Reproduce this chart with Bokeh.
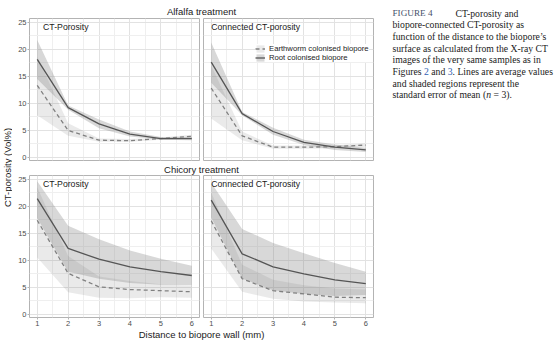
import math
from bokeh.plotting import figure
from bokeh.models import (Range1d, FixedTicker, Label, Legend, LegendItem, Grid,
                          LinearAxis, ColumnDataSource)
from bokeh.layouts import row, column
from bokeh.embed import file_html
from bokeh.resources import INLINE

# ---------------- data ----------------
distance = [1, 2, 3, 4, 5, 6]
x_ticks = [1, 2, 3, 4, 5, 6]
x_minor = [1.5, 2.5, 3.5, 4.5, 5.5]
y_ticks = [0, 5, 10, 15, 20, 25]
y_minor = [2.5, 7.5, 12.5, 17.5, 22.5]

treatments = ["Alfalfa treatment", "Chicory treatment"]
panel_titles = ["CT-Porosity", "Connected CT-porosity"]
series_names = ["Earthworm colonised biopore", "Root colonised biopore"]
y_title = "CT-porosity (Vol%)"
x_title = "Distance to biopore wall (mm)"

# Alfalfa - CT-porosity
alf_ct_ew_mean = [13.3, 5.0, 3.2, 3.1, 3.5, 3.9]
alf_ct_ew_lo = [7.8, 4.0, 2.9, 2.9, 3.3, 3.6]
alf_ct_ew_hi = [18.6, 6.3, 3.5, 3.4, 3.7, 4.2]
alf_ct_root_mean = [18.1, 9.2, 6.2, 4.3, 3.5, 3.5]
alf_ct_root_lo = [14.5, 8.8, 5.4, 3.9, 3.3, 3.2]
alf_ct_root_hi = [21.7, 9.6, 7.0, 4.8, 3.8, 3.8]

# Alfalfa - connected CT-porosity
alf_con_ew_mean = [12.8, 4.0, 1.9, 1.9, 2.0, 2.3]
alf_con_ew_lo = [7.2, 3.2, 1.6, 1.6, 1.7, 2.0]
alf_con_ew_hi = [17.0, 4.8, 2.2, 2.2, 2.3, 2.6]
alf_con_root_mean = [17.6, 8.1, 4.8, 2.8, 1.9, 1.4]
alf_con_root_lo = [13.8, 7.8, 4.2, 2.3, 1.4, 1.0]
alf_con_root_hi = [21.2, 8.4, 5.5, 3.3, 2.4, 1.8]

# Chicory - CT-porosity
chi_ct_ew_mean = [17.4, 7.6, 5.1, 4.6, 4.4, 4.2]
chi_ct_ew_lo = [10.5, 4.1, 3.1, 3.0, 3.2, 3.1]
chi_ct_ew_hi = [23.5, 10.8, 7.0, 6.2, 5.6, 5.3]
chi_ct_root_mean = [21.4, 12.2, 10.2, 8.8, 7.9, 7.2]
chi_ct_root_lo = [17.8, 7.9, 6.6, 5.8, 5.5, 5.4]
chi_ct_root_hi = [24.6, 16.4, 13.9, 11.8, 10.3, 9.0]

# Chicory - connected CT-porosity
chi_con_ew_mean = [17.3, 6.6, 4.4, 3.8, 3.2, 3.1]
chi_con_ew_lo = [12.2, 4.2, 2.9, 2.4, 2.2, 2.1]
chi_con_ew_hi = [22.5, 9.2, 6.4, 5.4, 4.8, 4.6]
chi_con_root_mean = [21.1, 11.2, 8.8, 7.5, 6.4, 5.7]
chi_con_root_lo = [17.9, 6.6, 4.5, 3.8, 3.4, 3.6]
chi_con_root_hi = [24.3, 15.8, 13.2, 11.3, 9.5, 7.9]

caption_head = "FIGURE 4"
caption_lines = [
    ["CT-porosity and"],
    ["biopore-connected CT-porosity as"],
    ["function of the distance to the biopore\u2019s"],
    ["surface as calculated from the X-ray CT"],
    ["images of the very same samples as in"],
    ["Figures ", "2", " and ", "3", ". Lines are average values"],
    ["and shaded regions represent the"],
    ["standard error of mean (", "n", " = 3)."],
]

# ---------------- styling ----------------
SANS = "Liberation Sans"
SERIF = "Liberation Serif"
FRAME_W = 170
FRAME_H = 142
GRID_MAJOR = "#e2e2e2"
GRID_MINOR = "#efefef"
BORDER = "#b3b3b3"


def make_axis(ticks):
    return LinearAxis(ticker=FixedTicker(ticks=ticks), axis_line_color=None,
                      major_tick_line_color=BORDER, major_tick_in=0, major_tick_out=2,
                      minor_tick_line_color=None, major_label_standoff=1,
                      major_label_text_font_size="7.5px", major_label_text_color="#4d4d4d",
                      major_label_text_font=SANS)


def make_panel(ew, root, title, title_x, left_axis, bottom_axis, with_legend,
               b_left, b_right, b_bottom):
    p = figure(width=b_left + FRAME_W + b_right, height=FRAME_H + b_bottom,
               x_range=Range1d(0.75, 6.25), y_range=Range1d(-0.55, 25.65),
               x_axis_location=None, y_axis_location=None, toolbar_location=None,
               output_backend="svg", title=None,
               min_border_left=b_left, min_border_right=b_right,
               min_border_top=0, min_border_bottom=b_bottom,
               background_fill_color="white", border_fill_color="white",
               outline_line_color=BORDER, outline_line_width=1)
    p.center = [r for r in p.center if not isinstance(r, Grid)]
    for dim, ticks, minor in ((0, x_ticks, x_minor), (1, y_ticks, y_minor)):
        p.add_layout(Grid(dimension=dim, ticker=FixedTicker(ticks=ticks, minor_ticks=minor),
                          grid_line_color=GRID_MAJOR, grid_line_width=1,
                          minor_grid_line_color=GRID_MINOR, minor_grid_line_width=1))
    src = ColumnDataSource(dict(x=distance, ew_mean=ew[0], ew_lo=ew[1], ew_hi=ew[2],
                                root_mean=root[0], root_lo=root[1], root_hi=root[2]))
    ew_band = p.varea(x="x", y1="ew_lo", y2="ew_hi", source=src,
                      fill_color="#7f7f7f", fill_alpha=0.16)
    root_band = p.varea(x="x", y1="root_lo", y2="root_hi", source=src,
                        fill_color="#7f7f7f", fill_alpha=0.30)
    ew_line = p.line("x", "ew_mean", source=src, line_color="#808080",
                     line_width=1.3, line_dash="4 3")
    root_line = p.line("x", "root_mean", source=src, line_color="#555555", line_width=1.3)
    if left_axis:
        p.add_layout(make_axis(y_ticks), "left")
    if bottom_axis:
        p.add_layout(make_axis(x_ticks), "below")
    p.add_layout(Label(x=title_x, y=24.0, text=title, text_font=SANS,
                       text_font_size="8.7px", text_color="#1a1a1a",
                       text_baseline="middle", text_align="left"))
    if with_legend:
        leg = Legend(items=[LegendItem(label=series_names[0], renderers=[ew_band, ew_line]),
                            LegendItem(label=series_names[1], renderers=[root_band, root_line])],
                     location=(52, 98), padding=0, margin=0, spacing=0,
                     glyph_width=10, glyph_height=9, label_height=9, label_standoff=4,
                     label_text_font_size="7.7px", label_text_font=SANS,
                     label_text_color="#1a1a1a", border_line_color=None,
                     background_fill_color="white", background_fill_alpha=1)
        p.add_layout(leg)
    return p


def text_box(width, height):
    f = figure(width=width, height=height, x_range=Range1d(0, width), y_range=Range1d(0, height),
               x_axis_location=None, y_axis_location=None, toolbar_location=None,
               output_backend="svg", title=None, min_border=0,
               min_border_left=0, min_border_right=0, min_border_top=0, min_border_bottom=0,
               outline_line_color=None, background_fill_color="white", border_fill_color="white")
    f.center = [r for r in f.center if not isinstance(r, Grid)]
    return f


# ---------------- panels ----------------
# top panels keep a 2 px bottom border so the "0" tick label is not cut off
TL = make_panel((alf_ct_ew_mean, alf_ct_ew_lo, alf_ct_ew_hi),
                (alf_ct_root_mean, alf_ct_root_lo, alf_ct_root_hi),
                panel_titles[0], 1.19, True, False, False, 17, 2, 2)
TR = make_panel((alf_con_ew_mean, alf_con_ew_lo, alf_con_ew_hi),
                (alf_con_root_mean, alf_con_root_lo, alf_con_root_hi),
                panel_titles[1], 1.0, False, False, True, 2, 17, 2)
BL = make_panel((chi_ct_ew_mean, chi_ct_ew_lo, chi_ct_ew_hi),
                (chi_ct_root_mean, chi_ct_root_lo, chi_ct_root_hi),
                panel_titles[0], 1.19, True, True, False, 17, 2, 11)
BR = make_panel((chi_con_ew_mean, chi_con_ew_lo, chi_con_ew_hi),
                (chi_con_root_mean, chi_con_root_lo, chi_con_root_hi),
                panel_titles[1], 1.0, False, True, False, 2, 17, 11)

MAIN_W = 2 * (17 + FRAME_W + 2)

stripA = text_box(MAIN_W, 18)
stripA.add_layout(Label(x=189, y=7, text=treatments[0], text_font=SANS, text_font_size="9.5px",
                        text_color="#1a1a1a", text_align="center", text_baseline="middle"))
stripC = text_box(MAIN_W, 13)
stripC.add_layout(Label(x=189, y=6, text=treatments[1], text_font=SANS, text_font_size="9.5px",
                        text_color="#1a1a1a", text_align="center", text_baseline="middle"))
xlab = text_box(MAIN_W, 15)
xlab.add_layout(Label(x=189, y=9.5, text=x_title, text_font=SANS, text_font_size="9.5px",
                      text_color="#1a1a1a", text_align="center", text_baseline="middle"))

ylab = text_box(12, 343)
ylab.add_layout(Label(x=6.5, y=343 - 167, text=y_title, text_font=SANS, text_font_size="9.5px",
                      text_color="#1a1a1a", text_align="center", text_baseline="middle",
                      angle=math.pi / 2))

# ---------------- caption ----------------
TW = {' ': 250, 'F': 556, 'i': 278, 'g': 500, 'u': 500, 'r': 333, 'e': 444, 's': 389,
      '2': 500, '3': 500, 'a': 444, 'n': 500, 'd': 500, 't': 278, 'o': 500, 'f': 333,
      'm': 778, '(': 333, '.': 250, 'h': 500, 'l': 278, 'c': 444, 'v': 500, 'L': 611}


def tw(s, size):
    return sum(TW.get(c, 500) for c in s) * size / 1000.0


CAP_W = 554 - 12 - MAIN_W
cap = text_box(CAP_W, 343)
CAP_SIZE = 9.7
line_y = [12.7, 24.3, 36.0, 47.7, 59.3, 71.0, 82.7, 94.3]
cap.add_layout(Label(x=2, y=343 - line_y[0], text=caption_head, text_font=SERIF,
                     text_font_size="9.2px", text_color="#45506a", text_baseline="middle"))
for i, segs in enumerate(caption_lines):
    x0 = 65 if i == 0 else 2
    for s in segs:
        color = "#1a1a1a"
        style = "normal"
        if i == 5 and s in ("2", "3"):
            color = "#2f5fb3"
        if i == 7 and s == "n":
            style = "italic"
        lead = len(s) - len(s.lstrip(" "))
        cap.add_layout(Label(x=x0 + tw(s[:lead], CAP_SIZE), y=343 - line_y[i], text=s.strip(" "),
                             text_font=SERIF, text_font_size=f"{CAP_SIZE}px", text_color=color,
                             text_font_style=style, text_baseline="middle"))
        x0 += tw(s, CAP_SIZE)

left = column(stripA, row(TL, TR), stripC, row(BL, BR), xlab)
layout = row(ylab, left, cap)

open("out.html", "w").write(file_html(layout, INLINE, title="CT-porosity"))
